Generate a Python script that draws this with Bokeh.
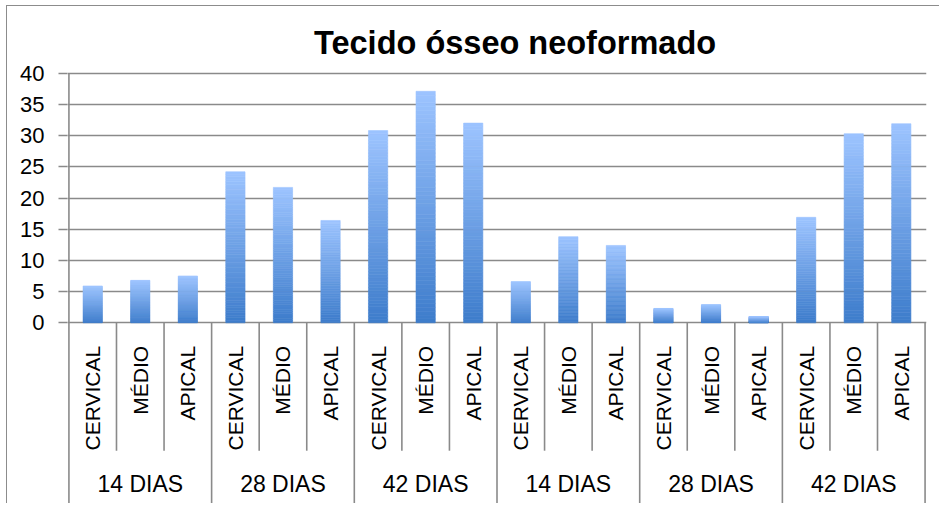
import numpy as np
from bokeh.plotting import figure
from bokeh.models import ColumnDataSource, Range1d, FixedTicker
from bokeh.core.properties import value
from bokeh.embed import file_html
from bokeh.resources import INLINE

# ---------------- data ----------------
title_text = "Tecido ósseo neoformado"
periods = ["14 DIAS", "28 DIAS", "42 DIAS", "14 DIAS", "28 DIAS", "42 DIAS"]
regions = ["CERVICAL", "MÉDIO", "APICAL"]
values = [5.9, 6.8, 7.5, 24.2, 21.7, 16.4, 30.8, 37.1, 32.0,
          6.6, 13.8, 12.4, 2.3, 2.9, 1.0, 16.9, 30.3, 31.9]
y_ticks = [0, 5, 10, 15, 20, 25, 30, 35, 40]

# ---------------- layout / style ----------------
FONT = "Liberation Sans"
GRID = "#8a8a8a"
LIGHT = np.array([157, 196, 255])
DARK = np.array([61, 124, 203])
n_cat = len(values)
y_top, y_bot = 50.69, -29.12
sub_sep_bottom = -20.5
sub_label_y = -3.7
group_label_y = -25.9

p = figure(width=933, height=498, output_backend="svg", toolbar_location=None,
           x_range=Range1d(-0.03, n_cat + 0.03), y_range=Range1d(y_bot, y_top),
           min_border_left=60, min_border_right=14, min_border_top=0, min_border_bottom=0)
p.styles = {"border-left": "1px solid #8c8c8c", "border-top": "1px solid #8c8c8c",
            "margin-left": "6px", "margin-top": "5px"}
p.outline_line_color = None
p.background_fill_color = "white"
p.border_fill_color = "white"
p.xaxis.visible = False
p.xgrid.visible = False

yax = p.yaxis[0]
yax.ticker = FixedTicker(ticks=y_ticks)
yax.bounds = (0, 40)
yax.axis_line_color = None
yax.major_tick_line_color = GRID
yax.major_tick_line_width = 1.5
yax.major_tick_out = 9
yax.major_tick_in = 0
yax.minor_tick_line_color = None
yax.major_label_standoff = 14
yax.major_label_text_font = FONT
yax.major_label_text_font_size = "22px"
yax.major_label_text_color = "black"

p.ygrid.ticker = FixedTicker(ticks=y_ticks)
p.ygrid.grid_line_color = GRID
p.ygrid.grid_line_width = 1.6

# ---------------- gradient bars (stacked slices) ----------------
N = 60
xs, bots, tops, cols = [], [], [], []
for i, v in enumerate(values):
    for j in range(N):
        t = (j + 0.5) / N
        c = DARK + (LIGHT - DARK) * t
        xs.append(i + 0.5)
        bots.append(v * j / N)
        tops.append(v * (j + 1) / N)
        cols.append("#%02x%02x%02x" % tuple(int(round(k)) for k in c))
src = ColumnDataSource(dict(x=xs, bottom=bots, top=tops, color=cols))
p.vbar(x="x", bottom="bottom", top="top", width=0.405, source=src,
       fill_color="color", line_color="color", line_width=0.6)

# ---------------- category axis lines ----------------
sx, sy0, sy1 = [], [], []
for k in range(n_cat + 1):
    sx.append(k)
    sy0.append(0)
    sy1.append(y_bot if k % 3 == 0 else sub_sep_bottom)
p.segment(x0=sx, y0=sy0, x1=sx, y1=sy1, line_color=GRID, line_width=1.6)
# left plot border (value axis line)
p.segment(x0=[0], y0=[0], x1=[0], y1=[40], line_color=GRID, line_width=1.6)

# ---------------- category labels ----------------
sub_x = [i + 0.5 for i in range(n_cat)]
sub_txt = [regions[i % 3] for i in range(n_cat)]
p.text(x=sub_x, y=[sub_label_y] * n_cat, text=sub_txt, angle=np.pi / 2,
       text_align="right", text_baseline="middle",
       text_font=value(FONT), text_font_size="21px", text_color="black")

grp_x = [3 * g + 1.5 for g in range(len(periods))]
p.text(x=grp_x, y=[group_label_y] * len(periods), text=periods,
       text_align="center", text_baseline="middle",
       text_font=value(FONT), text_font_size="23px", text_color="black")

# ---------------- title ----------------
p.text(x=[9.38], y=[44.8], text=[title_text], text_align="center", text_baseline="middle",
       text_font=value(FONT), text_font_size="32.5px", text_font_style="bold", text_color="black")

open("out.html", "w").write(file_html(p, INLINE))
